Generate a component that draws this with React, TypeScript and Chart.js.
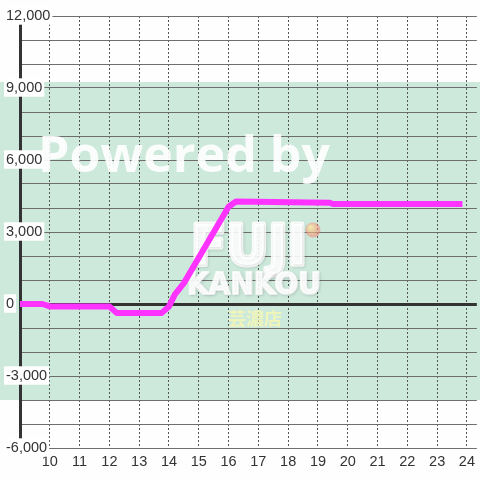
import React, { useEffect, useRef } from "react";
import { Chart, registerables } from "chart.js";

Chart.register(...registerables);

// ---- data ----
const timeValues = [9, 9.75, 10, 12, 12.25, 13.75, 14.0, 14.2, 14.5, 16.0, 16.25, 19.4, 19.5, 23.85];
const balanceValues = [0, 0, -100, -100, -380, -380, -100, 400, 870, 4050, 4270, 4220, 4170, 4170];
const xTickValues = [10, 11, 12, 13, 14, 15, 16, 17, 18, 19, 20, 21, 22, 23, 24];
const yLabelValues = [-6000, -3000, 0, 3000, 6000, 9000, 12000];
const bandRange = [9250, -4000];
const xRange = [9, 24.333];
const yRange = [-6000, 12000];

const FONT = "'Liberation Sans', Arial, sans-serif";

const backgroundPlugin = {
  id: "bgBand",
  beforeDraw(chart: any) {
    const { ctx, width } = chart;
    const y = chart.scales.y;
    ctx.save();
    ctx.fillStyle = "#fdfefd";
    ctx.fillRect(0, 0, width, chart.height);
    const top = y.getPixelForValue(bandRange[0]);
    const bottom = y.getPixelForValue(bandRange[1]);
    ctx.fillStyle = "#cde9dc";
    ctx.fillRect(0, top, width, bottom - top);
    ctx.restore();
  },
};

function fitText(
  ctx: CanvasRenderingContext2D,
  text: string,
  left: number,
  baseline: number,
  width: number,
  stroke = 0
) {
  const w = ctx.measureText(text).width;
  ctx.save();
  ctx.translate(left, baseline);
  ctx.scale(width / w, 1);
  if (stroke > 0) {
    ctx.lineWidth = stroke;
    ctx.lineJoin = "round";
    ctx.strokeStyle = ctx.fillStyle as string;
    ctx.strokeText(text, 0, 0);
  }
  ctx.fillText(text, 0, 0);
  ctx.restore();
}

const watermarkPlugin = {
  id: "watermark",
  beforeDatasetsDraw(chart: any) {
    const { ctx } = chart;
    ctx.save();
    ctx.textAlign = "left";
    ctx.textBaseline = "alphabetic";
    // Powered by
    ctx.fillStyle = "rgba(255,255,255,0.9)";
    ctx.font = `bold 50px 'Open Sans', sans-serif`;
    fitText(ctx, "Powered by", 38, 172, 292);
    // FUJI logo
    ctx.shadowColor = "rgba(0,0,0,0.12)";
    ctx.shadowBlur = 3;
    ctx.shadowOffsetX = 1;
    ctx.shadowOffsetY = 1;
    ctx.fillStyle = "rgba(255,255,255,0.88)";
    ctx.font = `bold 56px 'DejaVu Sans', sans-serif`;
    fitText(ctx, "FUJI", 191, 264, 116, 5);
    ctx.font = `bold 30px 'DejaVu Sans', sans-serif`;
    fitText(ctx, "KANKOU", 187, 294, 134, 2);
    ctx.shadowColor = "transparent";
    // ball
    const g = ctx.createRadialGradient(310, 227, 1, 313, 230, 8);
    g.addColorStop(0, "rgba(255,230,150,0.7)");
    g.addColorStop(1, "rgba(240,120,110,0.55)");
    ctx.fillStyle = g;
    ctx.beginPath();
    ctx.arc(313, 230, 7.5, 0, Math.PI * 2);
    ctx.fill();
    // 芸濃店
    ctx.fillStyle = "rgba(255,250,170,0.7)";
    ctx.font = `bold 17px 'Noto Sans CJK JP', sans-serif`;
    fitText(ctx, "芸濃店", 228, 325, 54);
    ctx.restore();
  },
};

export default function App() {
  const canvasRef = useRef<HTMLCanvasElement | null>(null);

  useEffect(() => {
    document.body.style.margin = "0";
    const canvas = canvasRef.current;
    if (!canvas) return;
    const chart = new Chart(canvas, {
      type: "line",
      data: {
        datasets: [
          {
            data: timeValues.map((t, i) => ({ x: t, y: balanceValues[i] })),
            borderColor: "#ff33ff",
            borderWidth: 6,
            pointRadius: 0,
            tension: 0,
            borderJoinStyle: "round",
            fill: false,
          },
        ],
      },
      options: {
        responsive: false,
        animation: false,
        devicePixelRatio: 1,
        layout: { padding: { top: 16, left: 4, right: 0, bottom: 0 } },
        plugins: {
          legend: { display: false },
          tooltip: { enabled: false },
        },
        scales: {
          x: {
            type: "linear",
            min: xRange[0],
            max: xRange[1],
            afterBuildTicks: (scale: any) => {
              scale.ticks = xTickValues.map((v) => ({ value: v }));
            },
            afterFit: (scale: any) => {
              scale.height = 32;
            },
            grid: {
              color: "#555",
              lineWidth: 1,
              drawTicks: false,
            },
            border: { display: false, dash: [2, 2] },
            ticks: {
              autoSkip: false,
              maxRotation: 0,
              padding: 5,
              color: "#333",
              font: { family: FONT, size: 14.5 },
              callback: (v: any) => String(v),
            },
          },
          y: {
            type: "linear",
            min: yRange[0],
            max: yRange[1],
            afterFit: (scale: any) => {
              scale.width = 16;
            },
            grid: {
              color: (c: any) => (c.tick && c.tick.value === 0 ? "#333" : "#6e6e6e"),
              lineWidth: (c: any) => (c.tick && c.tick.value === 0 ? 3 : 1),
              drawTicks: false,
            },
            border: { display: true, color: "#333", width: 3 },
            ticks: {
              stepSize: 1000,
              autoSkip: false,
              mirror: true,
              crossAlign: "near",
              padding: -14,
              color: "#333",
              font: { family: FONT, size: 14.5 },
              showLabelBackdrop: (c: any) => yLabelValues.includes(c.tick.value),
              backdropColor: "#ffffff",
              backdropPadding: { top: 1, bottom: 0, left: 2, right: 2 },
              callback: (v: any) =>
                yLabelValues.includes(Number(v)) ? Number(v).toLocaleString("en-US") : "",
            },
          },
        },
      },
      plugins: [backgroundPlugin, watermarkPlugin],
    } as any);

    return () => chart.destroy();
  }, []);

  return (
    <div style={{ width: 480, height: 480 }}>
      <canvas ref={canvasRef} width={480} height={480} />
    </div>
  );
}
